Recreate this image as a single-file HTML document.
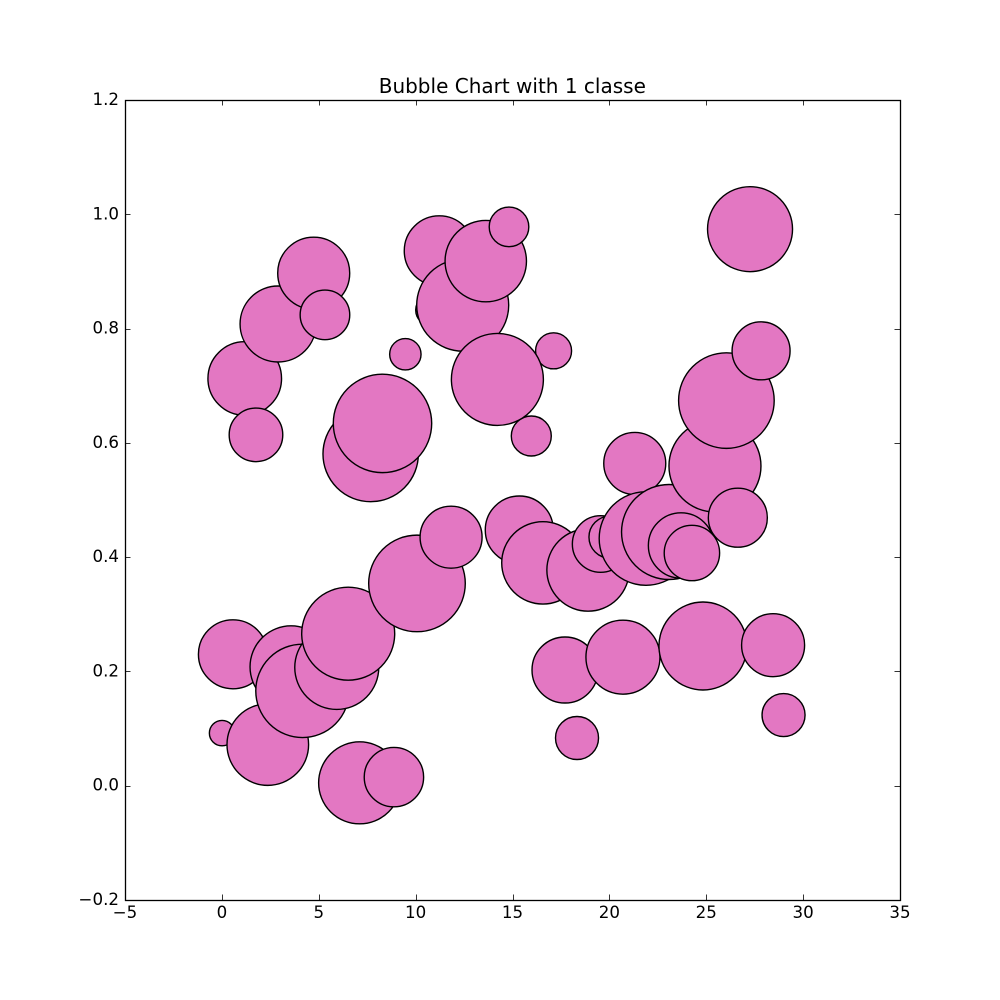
<!DOCTYPE html>
<html>
<head>
<meta charset="utf-8">
<title>Bubble Chart with 1 classe</title>
<style>
html,body{margin:0;padding:0;background:#fff;width:1000px;height:1000px;overflow:hidden}
svg{display:block}
text{font-family:"DejaVu Sans","Liberation Sans",sans-serif;fill:#000}
</style>
</head>
<body>
<svg id="chart" xmlns="http://www.w3.org/2000/svg" width="1000" height="1000" viewBox="0 0 1000 1000">
  <rect x="0" y="0" width="1000" height="1000" fill="#ffffff"/>
  <rect x="125" y="100" width="775" height="800" fill="#ffffff"/>
  <g id="bubbles"></g>
  <g id="ticks"></g>
  <rect x="125.5" y="100.5" width="775" height="800" fill="none" stroke="#000" stroke-width="1.3"/>
  <text x="512.3" y="93" font-size="20" text-anchor="middle">Bubble Chart with 1 classe</text>
</svg>
<script>
var xValues = [0.01,2.37,0.57,3.57,4.16,5.93,6.52,10.07,11.83,7.11,8.88,15.35,16.57,18.9,19.55,20.03,21.31,21.89,23.08,25.45,23.7,26.63,24.26,26.04,15.97,17.71,20.7,24.83,28.45,28.99,18.33,1.18,1.76,2.9,4.74,5.32,9.47,7.68,8.29,10.83,11.22,12.43,13.62,14.82,17.12,14.22,27.26,27.83];
var yValues = [0.092,0.072,0.230,0.208,0.166,0.207,0.266,0.354,0.435,0.005,0.015,0.4475,0.390,0.3775,0.423,0.435,0.564,0.4326,0.444,0.5595,0.4204,0.469,0.4072,0.674,0.612,0.2025,0.225,0.2445,0.246,0.1237,0.0835,0.7126,0.614,0.808,0.897,0.824,0.755,0.5805,0.634,0.8325,0.936,0.841,0.918,0.978,0.761,0.711,0.974,0.761];
var bubbleSizes = [334,3452,2468,3486,4522,3658,4484,4838,1993,3486,1829,2397,3520,3520,1661,914,1993,4542,4679,4388,2217,1805,1591,4738,829,2258,2839,4014,2058,959,959,2808,1489,2994,2687,1275,511,4718,5019,531,2540,4388,3435,813,672,4388,3745,1744];
var xTickValues = [-5,0,5,10,15,20,25,30,35];
var yTickValues = [-0.2,0,0.2,0.4,0.6,0.8,1.0,1.2];
var xTickLabels = ["\u22125","0","5","10","15","20","25","30","35"];
var yTickLabels = ["\u22120.2","0.0","0.2","0.4","0.6","0.8","1.0","1.2"];

var NS = "http://www.w3.org/2000/svg";
var plotLeft = 125, plotRight = 900, plotTop = 100, plotBottom = 900;
var xMin = -5, xMax = 35, yMin = -0.2, yMax = 1.2;

function xScale(v) { return plotLeft + (v - xMin) / (xMax - xMin) * (plotRight - plotLeft); }
function yScale(v) { return plotBottom - (v - yMin) / (yMax - yMin) * (plotBottom - plotTop); }
function sizeToRadius(s) { return Math.sqrt(s) * (100 / 72) / 2; }

var bubbleGroup = document.getElementById("bubbles");
for (var i = 0; i < xValues.length; i++) {
  var c = document.createElementNS(NS, "circle");
  c.setAttribute("cx", xScale(xValues[i]));
  c.setAttribute("cy", yScale(yValues[i]));
  c.setAttribute("r", sizeToRadius(bubbleSizes[i]));
  c.setAttribute("fill", "#e377c2");
  c.setAttribute("stroke", "#000");
  c.setAttribute("stroke-width", "1.4");
  
  
  bubbleGroup.appendChild(c);
}

function addTickLine(x1, y1, x2, y2) {
  var l = document.createElementNS(NS, "line");
  l.setAttribute("x1", x1);
  l.setAttribute("y1", y1);
  l.setAttribute("x2", x2);
  l.setAttribute("y2", y2);
  l.setAttribute("stroke", "#000");
  l.setAttribute("stroke-width", "0.8");
  
  
  document.getElementById("ticks").appendChild(l);
}

var tickLen = 5.5;
var tickGroup = document.getElementById("ticks");
for (var j = 0; j < xTickValues.length; j++) {
  var px = Math.round(xScale(xTickValues[j])) + 0.5;
  addTickLine(px, plotBottom, px, plotBottom - tickLen);
  addTickLine(px, plotTop, px, plotTop + tickLen);
  var xt = document.createElementNS(NS, "text");
  xt.setAttribute("x", xScale(xTickValues[j]));
  xt.setAttribute("y", 918);
  xt.setAttribute("font-size", "16.67");
  xt.setAttribute("text-anchor", "middle");
  
  
  xt.textContent = xTickLabels[j];
  tickGroup.appendChild(xt);
}
for (var k = 0; k < yTickValues.length; k++) {
  var py = Math.round(yScale(yTickValues[k])) + 0.5;
  addTickLine(plotLeft, py, plotLeft + tickLen, py);
  addTickLine(plotRight, py, plotRight - tickLen, py);
  var yt = document.createElementNS(NS, "text");
  yt.setAttribute("x", 119);
  yt.setAttribute("y", yScale(yTickValues[k]) + 5);
  yt.setAttribute("font-size", "16.67");
  yt.setAttribute("text-anchor", "end");
  
  
  yt.textContent = yTickLabels[k];
  tickGroup.appendChild(yt);
}
</script>
</body>
</html>
